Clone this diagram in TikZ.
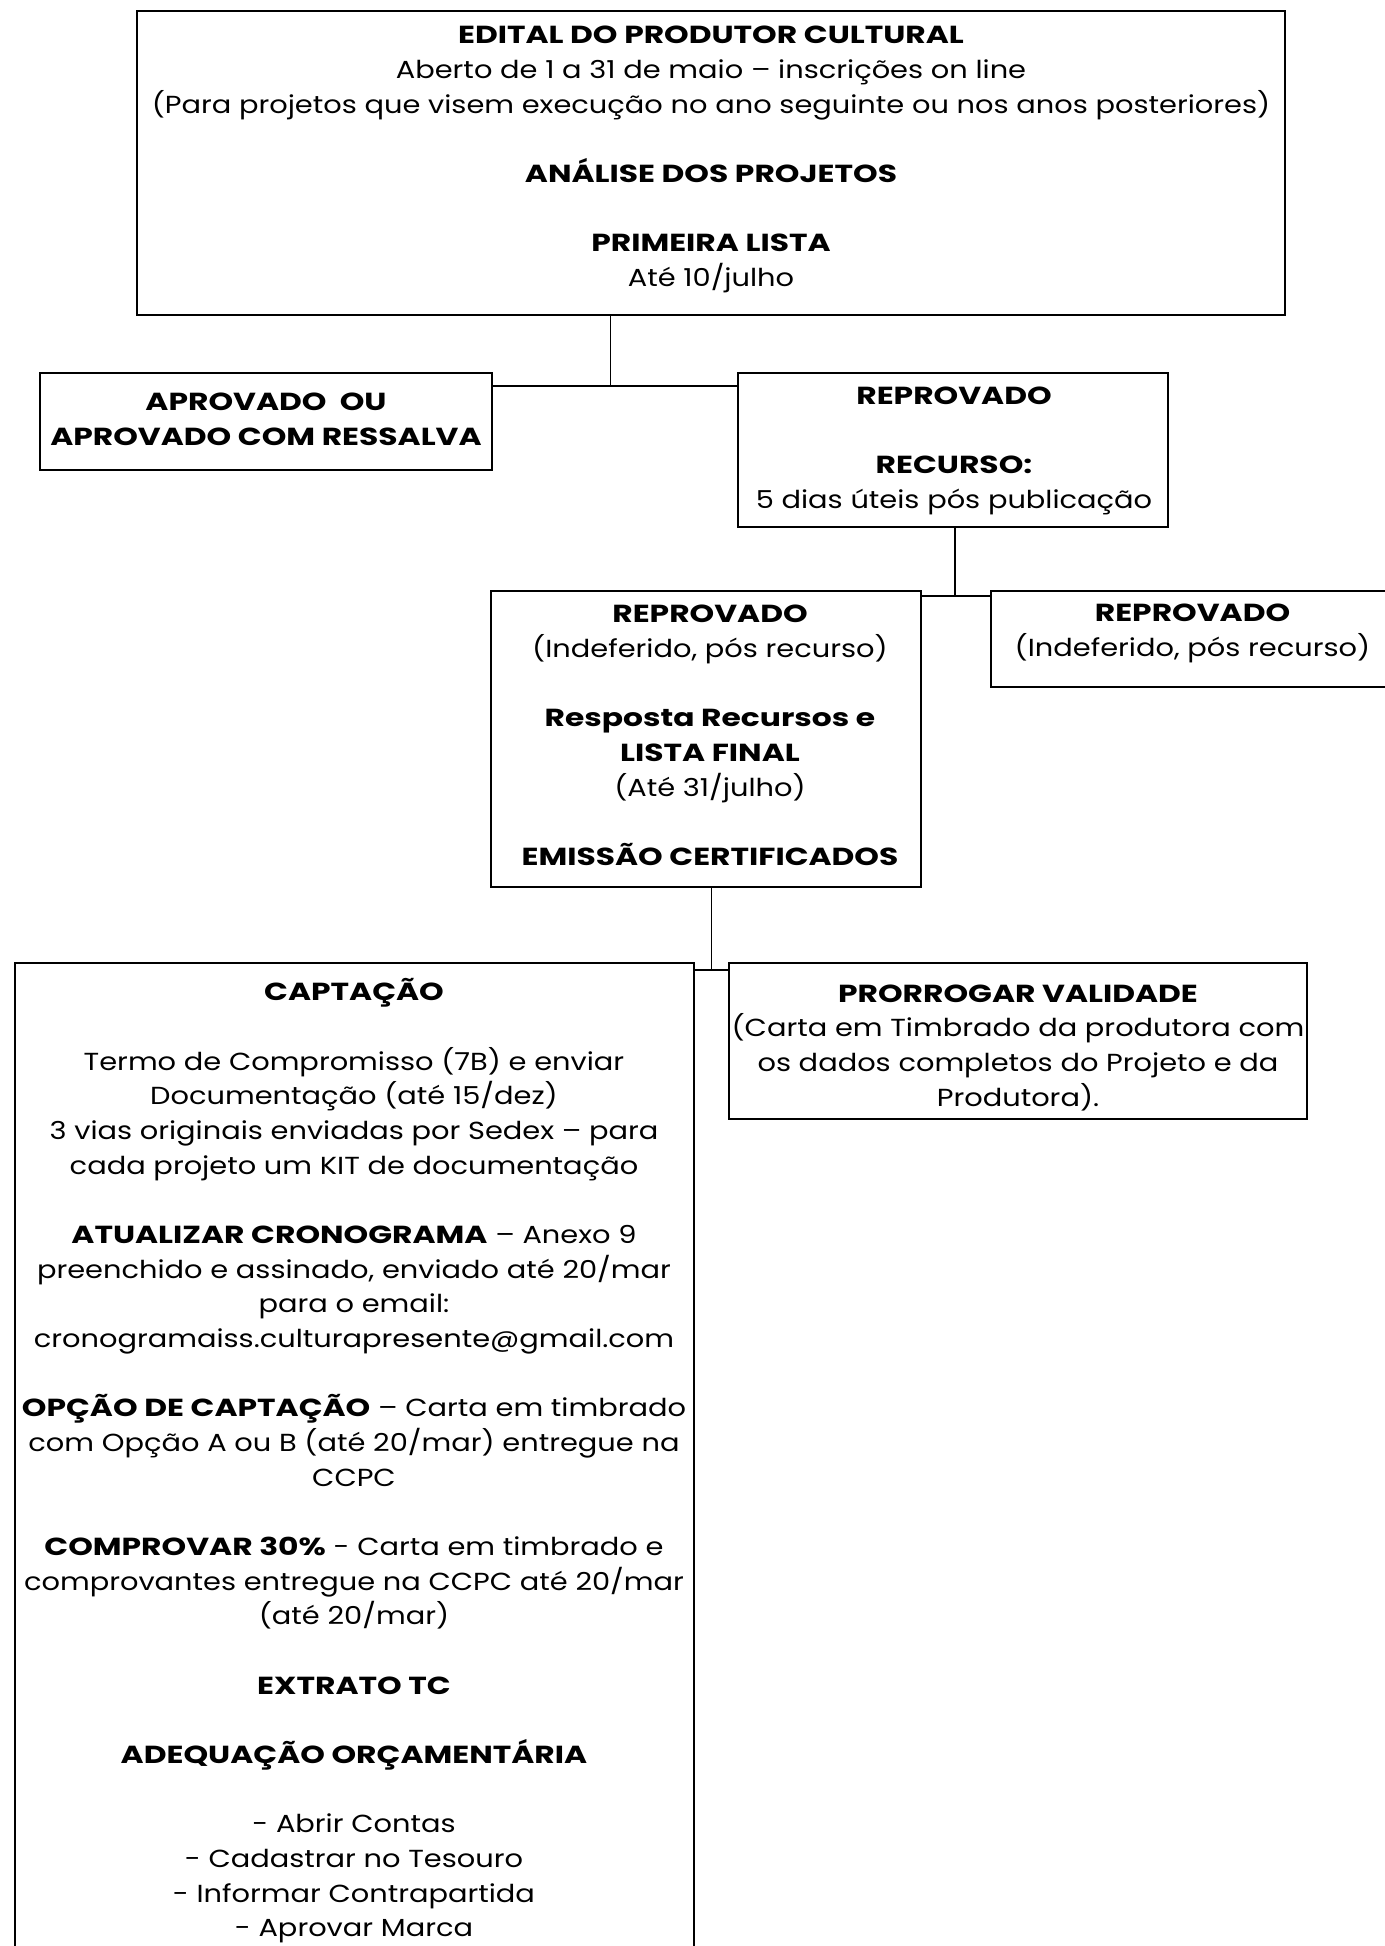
\documentclass[tikz,border=0pt]{standalone}
\usepackage{fontspec}
\setmainfont{Poppins}[FakeStretch=1.17,BoldFeatures={FakeStretch=1.27}]
\usetikzlibrary{fit}
\begin{document}
\begin{tikzpicture}[x=.75pt,y=-.75pt,
caixa/.style={draw,line width=1.5pt,inner sep=0pt},
texto/.style={anchor=north,align=center,inner sep=0pt,font=\fontsize{18.5}{26}\selectfont},
liga/.style={line width=1.3pt}]
\useasboundingbox(0,0)rectangle(1385,1946);
\newcommand{\Caixa}[8]{
\node[caixa,fit={(#2,#3)(#4,#5)}](#1){};
\node[texto](#1t)at(#6,#7-24.3){\strut#8};}
\Caixa{topo}{137}{11}{1285}{315}{711}{43.5}{\textbf{EDITAL DO PRODUTOR CULTURAL}\\Aberto de 1 a 31 de maio – inscrições on line\\(Para projetos que visem execução no ano seguinte ou nos anos posteriores)\\[26pt]\textbf{ANÁLISE DOS PROJETOS}\\[26pt]\textbf{PRIMEIRA LISTA}\\Até 10/julho}
\Caixa{aprov}{40}{373}{492}{470}{266}{410.5}{\textbf{APROVADO\ \ OU}\\\textbf{APROVADO COM RESSALVA}}
\Caixa{recurso}{738}{373}{1168}{527}{954}{404}{\textbf{REPROVADO}\\[26pt]\textbf{RECURSO:}\\5 dias úteis pós publicação}
\Caixa{final}{491}{591}{920.5}{887}{710}{622.5}{\textbf{REPROVADO}\\(Indeferido, pós recurso)\\[26pt]\textbf{Resposta Recursos e}\\\textbf{LISTA FINAL}\\(Até 31/julho)\\[26pt]\textbf{EMISSÃO CERTIFICADOS}}
\Caixa{indef}{991}{591}{1398}{687}{1192.5}{621.5}{\textbf{REPROVADO}\\(Indeferido, pós recurso)}
\Caixa{capta}{15}{963}{694}{1965}{354}{1000.5}{\textbf{CAPTAÇÃO}\\[26pt]Termo de Compromisso (7B) e enviar\\Documentação (até 15/dez)\\3 vias originais enviadas por Sedex – para\\cada projeto um KIT de documentação\\[26pt]\textbf{ATUALIZAR CRONOGRAMA} – Anexo 9\\preenchido e assinado, enviado até 20/mar\\para o email:\\cronogramaiss.culturapresente@gmail.com\\[26pt]\textbf{OPÇÃO DE CAPTAÇÃO} – Carta em timbrado\\com Opção A ou B (até 20/mar) entregue na\\CCPC\\[26pt]\textbf{COMPROVAR 30\%} - Carta em timbrado e\\comprovantes entregue na CCPC até 20/mar\\(até 20/mar)\\[26pt]\textbf{EXTRATO TC}\\[26pt]\textbf{ADEQUAÇÃO ORÇAMENTÁRIA}\\[26pt]- Abrir Contas\\- Cadastrar no Tesouro\\- Informar Contrapartida\\- Aprovar Marca}
\Caixa{prorroga}{729}{963}{1307}{1119}{1018}{1002}{\textbf{PRORROGAR VALIDADE}\\(Carta em Timbrado da produtora com\\os dados completos do Projeto e da\\Produtora).}
\coordinate(j1)at(610.5,386);
\draw[liga](topo.south-|j1)--(j1);
\draw[liga](aprov.east|-j1)--(recurso.west|-j1);
\coordinate(j2)at(955,596);
\draw[liga](recurso.south-|j2)--(j2);
\draw[liga](final.east|-j2)--(indef.west|-j2);
\coordinate(j3)at(711.5,970);
\draw[liga](final.south-|j3)--(j3);
\draw[liga](capta.east|-j3)--(prorroga.west|-j3);
\end{tikzpicture}
\end{document}
